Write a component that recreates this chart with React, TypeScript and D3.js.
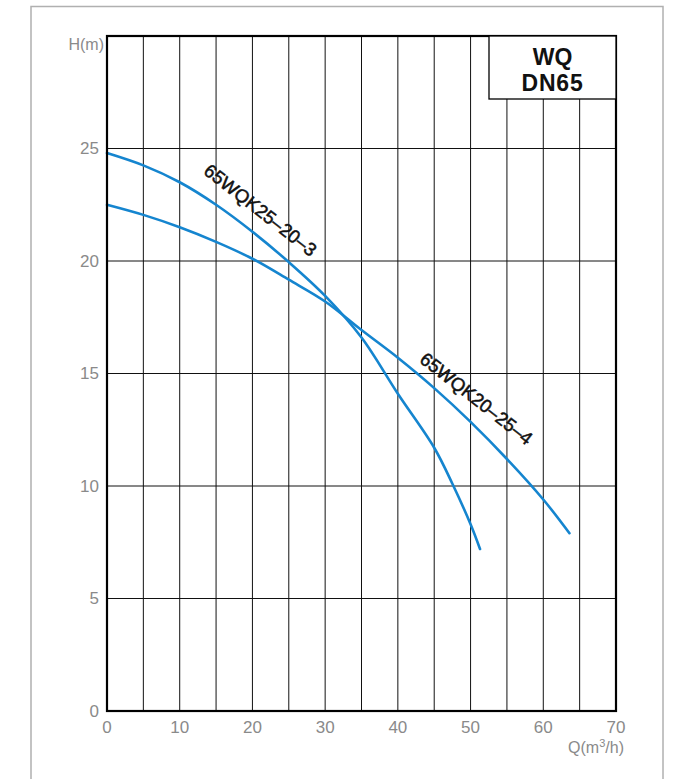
import React from "react";
import * as d3 from "d3";

const xTicks = [0, 10, 20, 30, 40, 50, 60, 70];
const yTicks = [0, 5, 10, 15, 20, 25];
const xGrid = [5, 10, 15, 20, 25, 30, 35, 40, 45, 50, 55, 60, 65];
const yGrid = [5, 10, 15, 20, 25];

const curveAQ = [0, 5, 10, 15, 20, 25, 30, 35, 40, 45, 47.5, 50, 51.3];
const curveAH = [24.8, 24.25, 23.5, 22.5, 21.3, 19.95, 18.45, 16.6, 14.1, 11.7, 10.1, 8.3, 7.2];
const curveBQ = [0, 5, 10, 15, 20, 25, 30, 35, 40, 45, 50, 55, 60, 63.6];
const curveBH = [22.5, 22.05, 21.5, 20.85, 20.1, 19.17, 18.2, 16.93, 15.7, 14.35, 12.85, 11.2, 9.4, 7.9];

const labelA = "65WQK25–20–3";
const labelB = "65WQK20–25–4";
const titleLines = ["WQ", "DN65"];

const FONT = "'Liberation Sans', Arial, Helvetica, sans-serif";

export default function App() {
  const W = 674, H = 779;
  const left = 107, right = 616, top = 36, bottom = 711;
  const x = d3.scaleLinear().domain([0, 70]).range([left, right]);
  const y = d3.scaleLinear().domain([0, 30]).range([bottom, top]);

  const line = d3
    .line<[number, number]>()
    .x((d) => x(d[0]))
    .y((d) => y(d[1]))
    .curve(d3.curveCatmullRom.alpha(0.5));

  const dataA: [number, number][] = curveAQ.map((q, i) => [q, curveAH[i]]);
  const dataB: [number, number][] = curveBQ.map((q, i) => [q, curveBH[i]]);

  const blue = "#1585cf";
  const gray = "#8a8a8a";

  return (
    <svg
      width={W}
      height={H}
      style={{ position: "absolute", left: 0, top: 0, display: "block", background: "#fff" }}
      fontFamily={FONT}
    >
      <rect x={31} y={6.5} width={632} height={800} fill="none" stroke="#b0b0b0" strokeWidth={1.5} />

      {xGrid.map((v) => (
        <line key={"xg" + v} x1={x(v)} x2={x(v)} y1={top} y2={bottom} stroke="#111" strokeWidth={1} />
      ))}
      {yGrid.map((v) => (
        <line key={"yg" + v} x1={left} x2={right} y1={y(v)} y2={y(v)} stroke="#111" strokeWidth={1} />
      ))}

      <path d={line(dataA) || ""} fill="none" stroke={blue} strokeWidth={2.6} strokeLinecap="round" />
      <path d={line(dataB) || ""} fill="none" stroke={blue} strokeWidth={2.6} strokeLinecap="round" />

      <rect x={left} y={top} width={right - left} height={bottom - top} fill="none" stroke="#000" strokeWidth={2.2} />

      <rect x={489} y={top} width={right - 489} height={63} fill="#fff" stroke="#000" strokeWidth={1.3} />
      <text x={552.5} y={65} textAnchor="middle" fontSize={23} fontWeight="bold" fill="#111">
        {titleLines[0]}
      </text>
      <text x={552.5} y={91} textAnchor="middle" fontSize={23} fontWeight="bold" fill="#111" letterSpacing={0.8}>
        {titleLines[1]}
      </text>

      {yTicks.map((v) => (
        <text key={"yt" + v} x={99} y={y(v)} dy="0.35em" textAnchor="end" fontSize={17} fill={gray}>
          {v}
        </text>
      ))}
      {xTicks.map((v) => (
        <text key={"xt" + v} x={x(v)} y={727} dy="0.35em" textAnchor="middle" fontSize={17} fill={gray}>
          {v}
        </text>
      ))}
      <text x={104} y={44} dy="0.35em" textAnchor="end" fontSize={16} fill={gray}>
        H(m)
      </text>
      <text x={624} y={747} dy="0.35em" textAnchor="end" fontSize={16} fill={gray}>
        Q(m<tspan dy="-6" fontSize={11}>3</tspan>
        <tspan dy="6">/h)</tspan>
      </text>

      <text
        x={260.5}
        y={210}
        textAnchor="middle"
        dominantBaseline="central"
        fontSize={18.5}
        fill="#111"
        stroke="#111"
        strokeWidth={0.5}
        transform="rotate(38 260.5 210)"
      >
        {labelA}
      </text>
      <text
        x={476.5}
        y={398.5}
        textAnchor="middle"
        dominantBaseline="central"
        fontSize={18.5}
        fill="#111"
        stroke="#111"
        strokeWidth={0.5}
        transform="rotate(38 476.5 398.5)"
      >
        {labelB}
      </text>
    </svg>
  );
}
